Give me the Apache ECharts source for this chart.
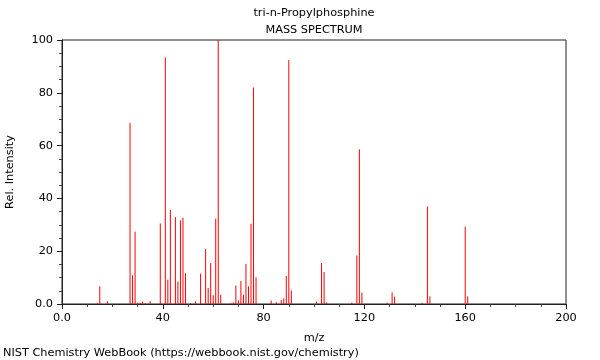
<!DOCTYPE html>
<html>
<head>
<meta charset="utf-8">
<script src="https://cdn.jsdelivr.net/npm/echarts@6/dist/echarts.min.js"></script>
<style>html,body{margin:0;padding:0;background:#fff;}#c{width:600px;height:360px;}</style>
</head>
<body>
<div id="c"></div>
<script>
var mzValues = [14,15,18,27,28,29,30,31,32,33,35,39,41,42,43,45,46,47,48,49,51,53,55,57,58,59,60,61,62,63,67,68,69,70,71,72,73,74,75,76,77,83,85,87,88,89,90,91,101,103,104,105,115,117,118,119,129,131,132,143,145,146,160,161];
var intensities = [0.4,6.7,1.0,68.6,10.9,27.4,0.5,0.5,0.9,0.3,1.0,30.5,93.4,9.2,35.6,32.9,8.5,31.7,32.7,11.6,0.3,1.0,11.5,20.8,6.1,15.5,3.3,32.3,100,3.5,0.3,0.6,7.0,1.4,8.7,3.5,15.2,6.7,30.4,82.0,10.1,1.3,0.7,1.5,2.1,10.6,92.4,5.1,0.9,15.5,12.1,0.6,0.5,18.4,58.6,4.3,0.5,4.4,2.8,0.3,37.0,2.9,29.3,2.9];
var xTicks = [0,40,80,120,160,200];
var yTicks = [0,20,40,60,80,100];

var FONT = 'DejaVu Sans';
var FS = 11.3;
var data = mzValues.map(function(m,i){ return [m, intensities[i]]; });
var chart = echarts.init(document.getElementById('c'), null, {renderer:'canvas'});
function fmt(v){ return v === 0 ? '0.0' : String(v); }
chart.setOption({
  animation: false,
  backgroundColor: '#fff',
  textStyle: {fontFamily: FONT},
  grid: {left: 62, right: 34, top: 40, bottom: 56, show: true, borderColor: '#222', borderWidth: 1, containLabel: false, outerBoundsMode: 'none'},
  graphic: [
    {type:'text', x:314, y:13, style:{text:'tri-n-Propylphosphine', fontFamily:FONT, fontSize:FS, fill:'#000', textAlign:'center', textVerticalAlign:'middle'}},
    {type:'text', x:314, y:30, style:{text:'MASS SPECTRUM', fontFamily:FONT, fontSize:FS, fill:'#000', textAlign:'center', textVerticalAlign:'middle'}},
    {type:'text', x:3, y:353, style:{text:'NIST Chemistry WebBook (https://webbook.nist.gov/chemistry)', fontFamily:FONT, fontSize:FS, fill:'#000', textAlign:'left', textVerticalAlign:'middle'}}
  ],
  xAxis: {
    type: 'value', min: xTicks[0], max: xTicks[xTicks.length-1], interval: 40,
    name: 'm/z', nameLocation: 'middle', nameGap: 29,
    nameTextStyle: {fontFamily: FONT, fontSize: FS, color: '#000'},
    axisLine: {show: true, lineStyle: {color: '#222'}},
    axisTick: {show: true, length: 5, lineStyle: {color: '#222'}},
    minorTick: {show: true, splitNumber: 4, length: 3, lineStyle: {color: '#444'}},
    splitLine: {show: false},
    axisLabel: {fontFamily: FONT, fontSize: FS, color: '#000', margin: 9, formatter: fmt}
  },
  yAxis: {
    type: 'value', min: yTicks[0], max: yTicks[yTicks.length-1], interval: 20,
    name: 'Rel. Intensity', nameLocation: 'middle', nameGap: 46, nameRotate: 90,
    nameTextStyle: {fontFamily: FONT, fontSize: FS, color: '#000'},
    axisLine: {show: true, lineStyle: {color: '#222'}},
    axisTick: {show: true, length: 5, lineStyle: {color: '#222'}},
    minorTick: {show: true, splitNumber: 4, length: 3, lineStyle: {color: '#444'}},
    splitLine: {show: false},
    axisLabel: {fontFamily: FONT, fontSize: FS, color: '#000', margin: 9, formatter: fmt}
  },
  series: [{
    type: 'custom',
    data: data,
    clip: true,
    renderItem: function(params, api){
      var p0 = api.coord([api.value(0), 0]);
      var p1 = api.coord([api.value(0), api.value(1)]);
      return {type:'line', shape:{x1:p0[0], y1:p0[1], x2:p1[0], y2:p1[1]}, style:{stroke:'#ff0000', lineWidth:1}};
    }
  }]
});
</script>
</body>
</html>
